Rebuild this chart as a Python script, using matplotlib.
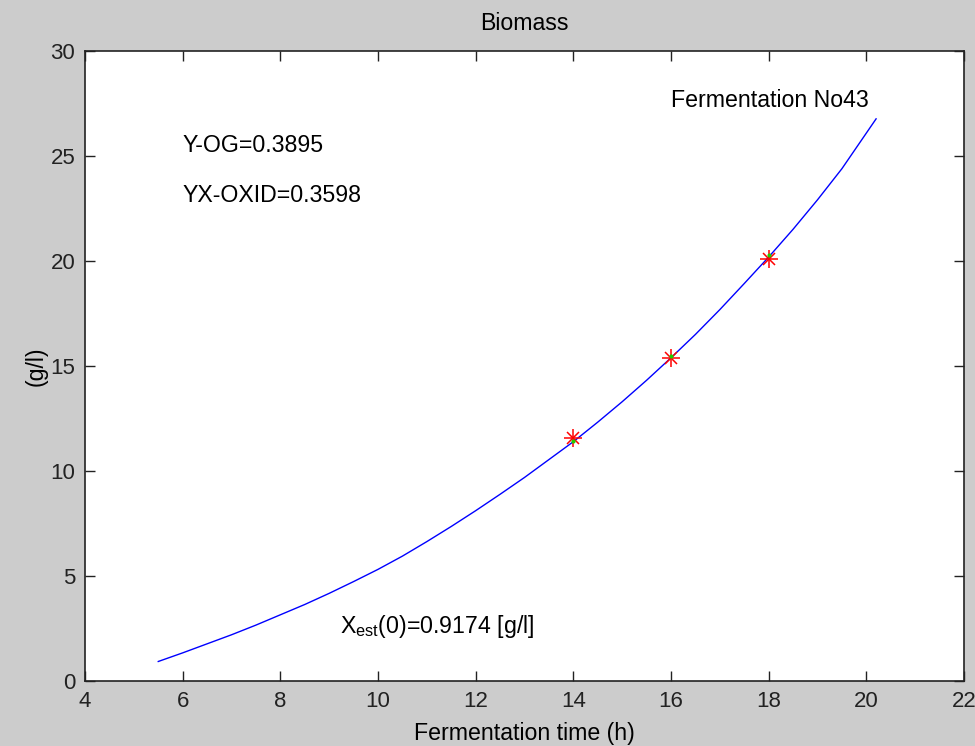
import numpy as np
import matplotlib
matplotlib.use("Agg")
import matplotlib.pyplot as plt

# estimated biomass curve
t_fit = [5.5, 6.0, 6.5, 7.0, 7.5, 8.0, 8.5, 9.0, 9.5, 10.0, 10.5, 11.0,
         11.5, 12.0, 12.5, 13.0, 13.5, 14.0, 14.5, 15.0, 15.5, 16.0, 16.5,
         17.0, 17.5, 18.0, 18.5, 19.0, 19.5, 20.2]
x_fit = [0.95, 1.36, 1.79, 2.22, 2.68, 3.17, 3.66, 4.19, 4.75, 5.33, 5.96,
         6.65, 7.37, 8.12, 8.90, 9.70, 10.55, 11.40, 12.33, 13.30, 14.32,
         15.39, 16.50, 17.68, 18.92, 20.18, 21.50, 22.90, 24.38, 26.75]

# measured and estimated points
t_meas = [14, 16, 18]
x_meas = [11.44, 15.48, 20.3]
x_est = [11.56, 15.37, 20.08]

grey = "#cccccc"
plt.rcParams["font.family"] = ["Liberation Sans", "DejaVu Sans"]

fig = plt.figure(figsize=(9.75, 7.46), dpi=100, facecolor=grey)
ax = fig.add_axes([0.0872, 0.0865, 0.9015, 0.8458])
ax.set_facecolor("white")

ax.plot(t_fit, x_fit, color="blue", linewidth=1.0)
# MATLAB style asterisk = plus + cross
ax.plot(t_meas, x_est, "+", color="red", markersize=13, markeredgewidth=1.1)
ax.plot(t_meas, x_est, "x", color="red", markersize=9, markeredgewidth=1.1)
ax.plot(t_meas, x_meas, ".", color="#22cc00", markersize=4)

ax.set_xlim(4, 22)
ax.set_ylim(0, 30)
ax.set_xticks(np.arange(4, 23, 2))
ax.set_yticks(np.arange(0, 31, 5))
ax.tick_params(direction="in", length=7, width=1, top=True, right=True,
               labelsize=16, colors="#222222", pad=7)
for s in ax.spines.values():
    s.set_linewidth(1.2)
    s.set_color("#222222")

fs = 16.7
ax.set_title("Biomass", fontsize=fs, pad=15)
ax.set_xlabel("Fermentation time (h)", fontsize=fs, labelpad=7)
ax.set_ylabel("(g/l)", fontsize=fs, labelpad=2)

ax.text(16, 27.6, "Fermentation No43", fontsize=fs, va="center")
ax.text(6, 25.5, "Y-OG=0.3895", fontsize=fs, va="center")
ax.text(6, 23.1, "YX-OXID=0.3598", fontsize=fs, va="center")
ax.text(9.22, 2.6, r"X$_{\mathregular{est}}$(0)=0.9174 [g/l]", fontsize=fs,
        va="center")

fig.savefig("out.png", dpi=100, facecolor=grey)
